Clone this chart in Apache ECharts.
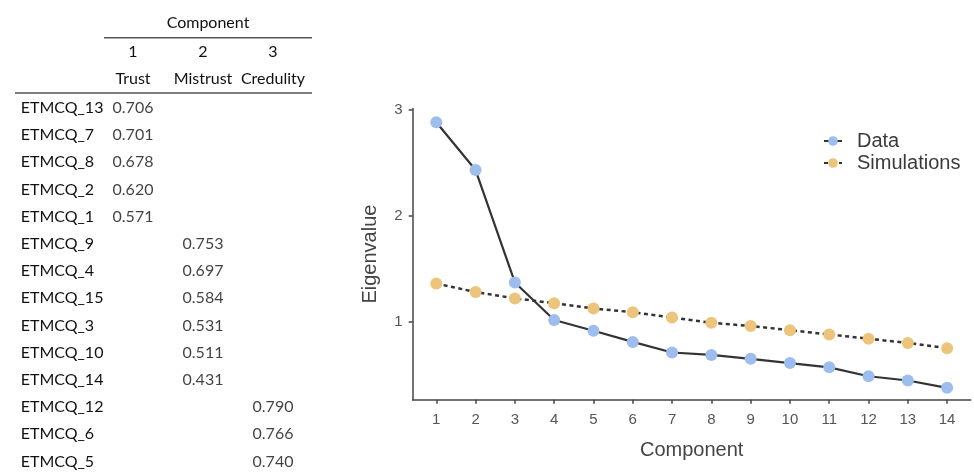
<!DOCTYPE html>
<html>
<head>
<meta charset="utf-8">
<script src="https://cdn.jsdelivr.net/npm/echarts@6/dist/echarts.min.js"></script>
<style>html,body{margin:0;padding:0;background:#fff}#c{width:974px;height:475px}</style>
</head>
<body>
<div id="c"></div>
<script>
// ---- Table data ----
const itemNames = ['ETMCQ_13','ETMCQ_7','ETMCQ_8','ETMCQ_2','ETMCQ_1','ETMCQ_9','ETMCQ_4','ETMCQ_15','ETMCQ_3','ETMCQ_10','ETMCQ_14','ETMCQ_12','ETMCQ_6','ETMCQ_5'];
const itemComponent = [1,1,1,1,1,2,2,2,2,2,2,3,3,3];
const itemLoadings = [0.706,0.701,0.678,0.620,0.571,0.753,0.697,0.584,0.531,0.511,0.431,0.790,0.766,0.740];
const headerNumbers = ['1','2','3'];
const headerNames = ['Trust','Mistrust','Credulity'];
const tableTitle = 'Component';

// ---- Scree plot data ----
const components = [1,2,3,4,5,6,7,8,9,10,11,12,13,14];
const dataEigen = [2.88,2.43,1.37,1.016,0.915,0.81,0.71,0.687,0.65,0.61,0.57,0.486,0.446,0.377];
const simEigen = [1.36,1.28,1.22,1.175,1.125,1.09,1.04,0.99,0.96,0.92,0.88,0.84,0.80,0.75];
const yTicks = [1,2,3];

const tableFont = 'Lato';
const chartFont = 'Liberation Sans';
const blue = '#9dbdee';
const orange = '#edc47c';

const chart = echarts.init(document.getElementById('c'), null, {renderer: 'canvas'});

const tableData = itemNames.map((n, i) => [itemComponent[i] - 1, i, itemLoadings[i]]);

chart.setOption({
  animation: false,
  backgroundColor: '#fff',
  legend: {
    orient: 'vertical',
    left: 818,
    top: 126,
    itemWidth: 18,
    itemHeight: 12,
    itemGap: 2,
    data: ['Data', 'Simulations'],
    textStyle: {fontFamily: chartFont, fontSize: 20, color: '#3a3a3a', padding: [0, 0, 0, 10]}
  },
  grid: [
    {left: 412.7, right: 3.3, top: 108.5, bottom: 75.3, containLabel: false},
    {left: 98, width: 210, top: 94.3, height: 382.7, containLabel: false}
  ],
  xAxis: [
    {
      type: 'value', gridIndex: 0, min: 0.4, max: 14.6,
      name: 'Component', nameLocation: 'middle', nameGap: 41,
      nameTextStyle: {fontFamily: chartFont, fontSize: 20, color: '#444'},
      axisLine: {show: true, lineStyle: {color: '#444', width: 1.5}},
      axisTick: {show: true, length: 4, customValues: components, lineStyle: {color: '#444', width: 1.5}},
      axisLabel: {customValues: components, margin: 13, fontFamily: chartFont, fontSize: 15, color: '#555'},
      splitLine: {show: false}
    },
    {
      type: 'category', gridIndex: 1, position: 'top', data: headerNumbers,
      name: tableTitle, nameLocation: 'middle', nameGap: 63,
      nameTextStyle: {fontFamily: tableFont, fontSize: 16, color: '#111', padding: [0, 0, 0, 10]},
      axisLine: {show: false}, axisTick: {show: false}, splitLine: {show: false},
      axisLabel: {
        margin: 2, interval: 0,
        formatter: (v, i) => '{n|' + headerNumbers[i] + '}\n{t|' + headerNames[i] + '}',
        rich: {
          n: {fontFamily: tableFont, fontSize: 16, color: '#111', lineHeight: 27},
          t: {fontFamily: tableFont, fontSize: 16, color: '#111', lineHeight: 27}
        }
      }
    }
  ],
  yAxis: [
    {
      type: 'value', gridIndex: 0, min: 0.265, max: 3.01,
      name: 'Eigenvalue', nameLocation: 'middle', nameGap: 32,
      nameTextStyle: {fontFamily: chartFont, fontSize: 20, color: '#444'},
      axisLine: {show: true, lineStyle: {color: '#444', width: 1.5}},
      axisTick: {show: true, length: 4, customValues: yTicks, lineStyle: {color: '#444', width: 1.5}},
      axisLabel: {customValues: yTicks, margin: 10, fontFamily: chartFont, fontSize: 15, color: '#555'},
      splitLine: {show: false}
    },
    {
      type: 'category', gridIndex: 1, inverse: true, data: itemNames,
      axisLine: {show: false}, axisTick: {show: false}, splitLine: {show: false},
      axisLabel: {align: 'left', margin: 77.3, interval: 0, fontFamily: tableFont, fontSize: 16, color: '#111'}
    }
  ],
  series: [
    {
      name: 'Simulations', type: 'line', xAxisIndex: 0, yAxisIndex: 0, z: 2,
      data: components.map((c, i) => [c, simEigen[i]]),
      symbol: 'circle', symbolSize: 12,
      itemStyle: {color: orange},
      lineStyle: {color: '#333', width: 2.5, type: [4, 3.5]}
    },
    {
      name: 'Data', type: 'line', xAxisIndex: 0, yAxisIndex: 0, z: 3,
      data: components.map((c, i) => [c, dataEigen[i]]),
      symbol: 'circle', symbolSize: 12,
      itemStyle: {color: blue},
      lineStyle: {color: '#333', width: 2.2}
    },
    {
      name: 'loadings', type: 'scatter', xAxisIndex: 1, yAxisIndex: 1, silent: true,
      symbolSize: 0,
      data: tableData,
      label: {
        show: true, position: 'inside',
        formatter: p => p.value[2].toFixed(3),
        fontFamily: tableFont, fontSize: 16, color: '#111'
      }
    }
  ],
  graphic: [
    {type: 'line', shape: {x1: 104, y1: 37.7, x2: 312, y2: 37.7}, style: {stroke: '#555', lineWidth: 1.5}},
    {type: 'line', shape: {x1: 15, y1: 93, x2: 312, y2: 93}, style: {stroke: '#555', lineWidth: 1.5}}
  ]
});
</script>
</body>
</html>
